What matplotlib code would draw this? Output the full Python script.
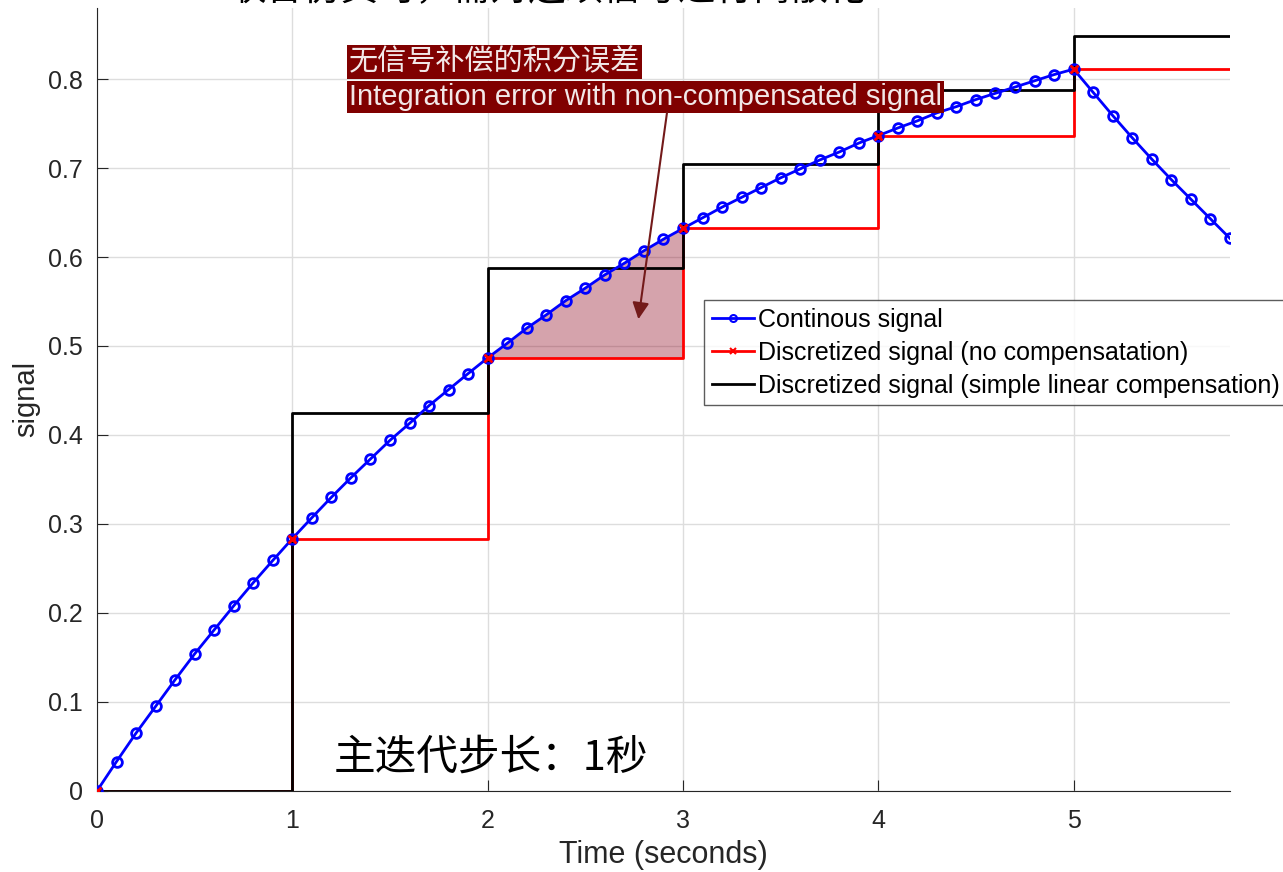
import numpy as np
import matplotlib.pyplot as plt

plt.rcParams['font.family'] = ['Liberation Sans', 'Noto Sans CJK SC', 'DejaVu Sans']

# continuous signal, sampled every 0.1 s
t_cont = [0.0, 0.1, 0.2, 0.3, 0.4, 0.5, 0.6, 0.7, 0.8, 0.9,
          1.0, 1.1, 1.2, 1.3, 1.4, 1.5, 1.6, 1.7, 1.8, 1.9,
          2.0, 2.1, 2.2, 2.3, 2.4, 2.5, 2.6, 2.7, 2.8, 2.9,
          3.0, 3.1, 3.2, 3.3, 3.4, 3.5, 3.6, 3.7, 3.8, 3.9,
          4.0, 4.1, 4.2, 4.3, 4.4, 4.5, 4.6, 4.7, 4.8, 4.9,
          5.0, 5.1, 5.2, 5.3, 5.4, 5.5, 5.6, 5.7, 5.8]
y_cont = [0.000, 0.033, 0.065, 0.095, 0.125, 0.154, 0.181, 0.208, 0.234, 0.259,
          0.2835, 0.307, 0.330, 0.352, 0.373, 0.394, 0.413, 0.433, 0.451, 0.469,
          0.4866, 0.503, 0.520, 0.535, 0.551, 0.565, 0.580, 0.593, 0.607, 0.620,
          0.6321, 0.644, 0.656, 0.667, 0.678, 0.689, 0.699, 0.709, 0.718, 0.728,
          0.7364, 0.745, 0.753, 0.762, 0.769, 0.777, 0.784, 0.791, 0.798, 0.805,
          0.8111, 0.785, 0.759, 0.734, 0.710, 0.687, 0.665, 0.643, 0.621]

# discrete samples (step 1 s)
t_step = [0, 1, 2, 3, 4, 5, 5.8]
y_nocomp = [0.0, 0.2835, 0.4866, 0.6321, 0.7364, 0.8111, 0.8111]
y_linear = [0.0, 0.425, 0.588, 0.705, 0.788, 0.848, 0.848]

fig = plt.figure(figsize=(12.83, 8.72), dpi=100)
ax = fig.add_axes([0.0756, 0.093, 0.883, 0.898])

# shaded integration error between t=2 and t=3
tc = np.array(t_cont)
yc = np.array(y_cont)
m = (tc >= 2.0) & (tc <= 3.0)
ax.fill_between(tc[m], y_nocomp[2], yc[m], color=(0.55, 0.0, 0.1), alpha=0.36,
                linewidth=0, zorder=1)

ax.step(t_step, y_nocomp, where='post', color='red', lw=2, zorder=2)
ax.step(t_step, y_linear, where='post', color='black', lw=2, zorder=3)
ax.plot(t_cont, y_cont, color='blue', lw=2, marker='o', ms=7, mfc='none',
        mew=2, zorder=4)
ax.plot(t_step[:-1], y_nocomp[:-1], ls='none', marker='x', color='red',
        ms=6, mew=2, zorder=5)

# legend handles
h1, = ax.plot([], [], color='blue', lw=2, marker='o', ms=5, mfc='none', mew=1.5)
h2, = ax.plot([], [], color='red', lw=2, marker='x', ms=4, mew=1.5)
h3, = ax.plot([], [], color='black', lw=2)
leg = fig.legend([h1, h2, h3],
                 ['Continous signal', 'Discretized signal (no compensatation)',
                  'Discretized signal (simple linear compensation)'],
                 loc='upper left', bbox_to_anchor=(704 / 1283, 1 - 300 / 872),
                 fontsize=18, frameon=True, fancybox=False, handlelength=1.7,
                 handletextpad=0.15, borderpad=0.3, labelspacing=0.36,
                 borderaxespad=0)
leg.get_frame().set_edgecolor('#333333')
leg.get_frame().set_linewidth(1)

ax.set_xlim(0, 5.8)
ax.set_ylim(0, 0.88)
ax.set_xticks([0, 1, 2, 3, 4, 5])
ax.set_yticks([0, 0.1, 0.2, 0.3, 0.4, 0.5, 0.6, 0.7, 0.8])
ax.set_yticklabels(['0', '0.1', '0.2', '0.3', '0.4', '0.5', '0.6', '0.7', '0.8'])
ax.grid(True, color='#dddddd', lw=1)
ax.set_axisbelow(True)
for s in ['top', 'right']:
    ax.spines[s].set_visible(False)
for s in ['left', 'bottom']:
    ax.spines[s].set_color('#262626')
ax.tick_params(direction='in', length=8, labelsize=18, colors='#262626')
ax.tick_params(axis='x', pad=13)
ax.tick_params(axis='y', pad=10)
ax.set_xlabel('Time (seconds)', fontsize=22, color='#262626', labelpad=5)
ax.set_ylabel('signal', fontsize=21, color='#262626', labelpad=6)

# annotation of the error area
box = dict(facecolor=(0.5, 0, 0), edgecolor='none', pad=1.5)
ax.text(1.29, 0.819, '无信号补偿的积分误差', fontsize=21, color='#f2e8e8',
        va='center', ha='left', bbox=box, family=['Noto Sans CJK SC'], zorder=6)
ax.text(1.29, 0.78, 'Integration error with non-compensated signal', fontsize=21,
        color='#f2e8e8', va='center', ha='left', bbox=box, zorder=6)
ax.annotate('', xy=(2.77, 0.527), xytext=(2.92, 0.765),
            arrowprops=dict(arrowstyle='-|>', color=(0.45, 0.1, 0.1), lw=1.5,
                            mutation_scale=25), zorder=7)

ax.text(1.21, 0.037, '主迭代步长：1秒', fontsize=30, color='black', va='center',
        ha='left', family=['Noto Sans CJK SC'])

fig.text(547 / 1283, 1.012, '联合仿真时，需对连续信号进行离散化', fontsize=27,
         ha='center', va='center', family=['Noto Sans CJK SC'])

fig.savefig('out.png', dpi=100)
